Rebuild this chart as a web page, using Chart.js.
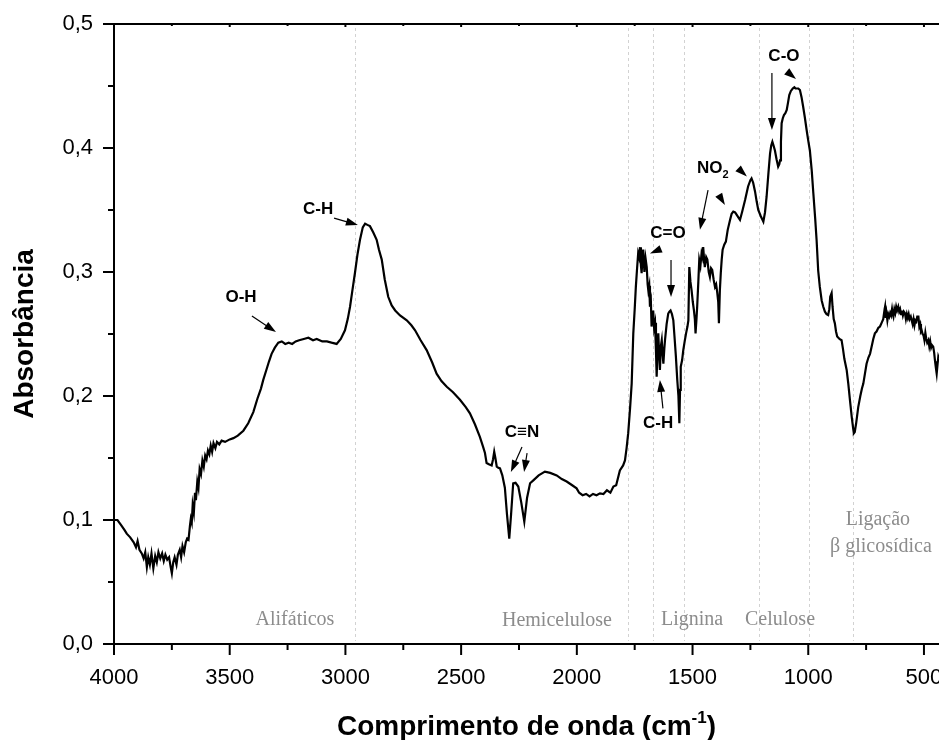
<!DOCTYPE html>
<html>
<head>
<meta charset="utf-8">
<script src="https://cdn.jsdelivr.net/npm/chart.js@4.4.0/dist/chart.umd.min.js"></script>
<style>
  html, body { margin: 0; padding: 0; background: #fff; }
  #wrap { width: 939px; height: 740px; }
</style>
</head>
<body>
<div id="wrap"><canvas id="myChart"></canvas></div>
<script>
// Spectrum, wavenumber in cm-1
const wavenumber = [
  4000, 3985, 3970, 3955, 3945, 3930, 3915, 3905, 3898, 3890, 3880, 3872, 3865, 3858, 3852, 3845, 3838, 3830, 3822, 3815,
  3808, 3800, 3792, 3785, 3778, 3770, 3762, 3755, 3750, 3744, 3738, 3730, 3724, 3716, 3710, 3704, 3697, 3690, 3684, 3678,
  3672, 3668, 3664, 3660, 3655, 3650, 3646, 3640, 3635, 3630, 3624, 3618, 3612, 3606, 3600, 3594, 3588, 3582, 3576, 3570,
  3562, 3555, 3545, 3535, 3520, 3500, 3484, 3465, 3441, 3420, 3398, 3380, 3365, 3355, 3340, 3330, 3319, 3305, 3290, 3275,
  3260, 3245, 3230, 3215, 3200, 3180, 3160, 3140, 3124, 3100, 3080, 3060, 3038, 3020, 3002, 2990, 2980, 2970, 2959, 2948,
  2937, 2925, 2915, 2905, 2894, 2880, 2865, 2855, 2843, 2830, 2815, 2800, 2785, 2764, 2735, 2715, 2699, 2675, 2649, 2625,
  2606, 2585, 2562, 2535, 2505, 2480, 2462, 2440, 2419, 2405, 2397, 2390, 2380, 2368, 2362, 2357, 2352, 2346, 2338, 2332,
  2322, 2311, 2302, 2292, 2284, 2275, 2265, 2253, 2240, 2227, 2215, 2202, 2188, 2165, 2138, 2115, 2087, 2065, 2044, 2020,
  2001, 1990, 1975, 1960, 1945, 1930, 1915, 1900, 1885, 1870, 1855, 1842, 1830, 1814, 1800, 1792, 1785, 1778, 1770, 1763,
  1756, 1750, 1745, 1740, 1735, 1731, 1727, 1723, 1720, 1716, 1713, 1708, 1703, 1698, 1694, 1691, 1687, 1684, 1680, 1677,
  1673, 1670, 1666, 1662, 1658, 1655, 1651, 1648, 1644, 1641, 1637, 1633, 1629, 1626, 1622, 1619, 1612, 1605, 1600, 1595,
  1589, 1583, 1578, 1572, 1566, 1561, 1557, 1554, 1551, 1545, 1540, 1534, 1528, 1522, 1518, 1514, 1509, 1504, 1499, 1494,
  1490, 1487, 1483, 1480, 1475, 1471, 1466, 1461, 1457, 1454, 1450, 1447, 1441, 1436, 1430, 1425, 1420, 1415, 1409, 1403,
  1398, 1393, 1389, 1386, 1382, 1378, 1374, 1370, 1363, 1356, 1348, 1338, 1331, 1324, 1316, 1309, 1302, 1295, 1285, 1273,
  1260, 1250, 1245, 1238, 1230, 1223, 1216, 1205, 1194, 1187, 1180, 1172, 1165, 1160, 1155, 1150, 1144, 1137, 1130, 1125,
  1122, 1118, 1115, 1110, 1105, 1099, 1093, 1088, 1082, 1075, 1067, 1060, 1055, 1050, 1043, 1036, 1029, 1022, 1015, 1007,
  1000, 993, 985, 978, 970, 964, 957, 950, 942, 935, 928, 921, 914, 909, 905, 899, 895, 890, 885, 880,
  875, 865, 856, 850, 844, 834, 827, 820, 812, 806, 803, 799, 793, 784, 775, 768, 762, 755, 748, 740,
  733, 726, 719, 712, 705, 697, 690, 683, 676, 670, 668, 665, 662, 658, 654, 650, 646, 642, 638, 635,
  632, 628, 624, 620, 616, 611, 607, 603, 599, 595, 591, 587, 582, 578, 574, 570, 566, 562, 557, 553,
  549, 545, 541, 537, 533, 529, 524, 520, 516, 513, 510, 506, 502, 498, 494, 490, 486, 481, 477, 473,
  469, 465, 460, 456, 452, 448, 445, 441, 438, 435
];
const absorbance = [
  0.100, 0.100, 0.096, 0.092, 0.089, 0.086, 0.082, 0.078, 0.083, 0.076, 0.073, 0.069, 0.074, 0.062, 0.070, 0.064, 0.073, 0.061, 0.071, 0.066,
  0.074, 0.069, 0.073, 0.067, 0.072, 0.068, 0.070, 0.062, 0.057, 0.066, 0.070, 0.064, 0.072, 0.076, 0.070, 0.079, 0.074, 0.082, 0.085, 0.084,
  0.095, 0.101, 0.098, 0.112, 0.106, 0.122, 0.116, 0.131, 0.126, 0.141, 0.137, 0.148, 0.143, 0.152, 0.149, 0.156, 0.153, 0.160, 0.155, 0.162,
  0.158, 0.163, 0.161, 0.164, 0.163, 0.165, 0.166, 0.168, 0.172, 0.178, 0.187, 0.198, 0.206, 0.213, 0.222, 0.228, 0.234, 0.239, 0.243, 0.244,
  0.242, 0.243, 0.242, 0.244, 0.245, 0.246, 0.247, 0.245, 0.246, 0.244, 0.244, 0.243, 0.242, 0.246, 0.253, 0.262, 0.272, 0.285, 0.299, 0.314,
  0.326, 0.336, 0.339, 0.338, 0.337, 0.332, 0.326, 0.318, 0.310, 0.294, 0.280, 0.273, 0.269, 0.265, 0.261, 0.257, 0.253, 0.245, 0.237, 0.227,
  0.218, 0.212, 0.2075, 0.203, 0.197, 0.191, 0.186, 0.177, 0.167, 0.159, 0.154, 0.146, 0.145, 0.144, 0.149, 0.155, 0.150, 0.143, 0.142, 0.1417,
  0.136, 0.126, 0.105, 0.085, 0.105, 0.1296, 0.130, 0.127, 0.114, 0.0986, 0.118, 0.1296, 0.132, 0.136, 0.139, 0.138, 0.136, 0.133, 0.131, 0.128,
  0.1255, 0.122, 0.120, 0.121, 0.119, 0.121, 0.120, 0.1215, 0.121, 0.124, 0.122, 0.127, 0.128, 0.140, 0.144, 0.148, 0.158, 0.170, 0.190, 0.210,
  0.2505, 0.270, 0.288, 0.302, 0.315, 0.312, 0.320, 0.305, 0.299, 0.312, 0.318, 0.300, 0.311, 0.304, 0.290, 0.285, 0.289, 0.272, 0.276, 0.256,
  0.265, 0.269, 0.255, 0.259, 0.236, 0.2155, 0.240, 0.2505, 0.232, 0.221, 0.240, 0.245, 0.233, 0.226, 0.238, 0.245, 0.258, 0.2665, 0.268, 0.269,
  0.266, 0.261, 0.248, 0.232, 0.213, 0.200, 0.178, 0.205, 0.2235, 0.229, 0.237, 0.244, 0.2505, 0.256, 0.261, 0.304, 0.292, 0.285, 0.276, 0.269,
  0.262, 0.2505, 0.262, 0.272, 0.292, 0.3097, 0.305, 0.315, 0.312, 0.320, 0.310, 0.304, 0.312, 0.310, 0.300, 0.296, 0.303, 0.3016, 0.294, 0.288,
  0.290, 0.283, 0.276, 0.2586, 0.285, 0.299, 0.310, 0.318, 0.322, 0.3245, 0.334, 0.342, 0.347, 0.3487, 0.348, 0.346, 0.344, 0.342, 0.349, 0.358,
  0.369, 0.374, 0.3755, 0.372, 0.365, 0.357, 0.350, 0.345, 0.3406, 0.348, 0.3607, 0.380, 0.3957, 0.402, 0.405, 0.402, 0.398, 0.391, 0.385, 0.387,
  0.390, 0.405, 0.420, 0.424, 0.4266, 0.428, 0.4306, 0.436, 0.4427, 0.446, 0.448, 0.449, 0.448, 0.448, 0.448, 0.4468, 0.441, 0.4333, 0.425, 0.4145,
  0.406, 0.398, 0.382, 0.3635, 0.343, 0.326, 0.301, 0.288, 0.277, 0.272, 0.268, 0.266, 0.2653, 0.270, 0.280, 0.283, 0.272, 0.262, 0.2586, 0.252,
  0.248, 0.246, 0.245, 0.238, 0.230, 0.221, 0.210, 0.197, 0.183, 0.174, 0.170, 0.171, 0.178, 0.191, 0.200, 0.206, 0.210, 0.218, 0.226, 0.231,
  0.234, 0.240, 0.246, 0.2505, 0.252, 0.255, 0.256, 0.259, 0.262, 0.270, 0.272, 0.263, 0.267, 0.261, 0.266, 0.264, 0.267, 0.265, 0.270, 0.266,
  0.264, 0.270, 0.267, 0.272, 0.269, 0.272, 0.268, 0.270, 0.266, 0.269, 0.265, 0.268, 0.2667, 0.262, 0.266, 0.263, 0.266, 0.262, 0.264, 0.261,
  0.258, 0.262, 0.257, 0.261, 0.260, 0.264, 0.264, 0.256, 0.258, 0.252, 0.253, 0.250, 0.249, 0.245, 0.251, 0.246, 0.243, 0.245, 0.240, 0.244,
  0.239, 0.241, 0.2398, 0.235, 0.228, 0.222, 0.218, 0.226, 0.2317, 0.230
];

// axis ticks
const xTicks = [4000, 3500, 3000, 2500, 2000, 1500, 1000, 500];
const xMinorTicks = [3750, 3250, 2750, 2250, 1750, 1250, 750];
const yTicks = [0, 0.1, 0.2, 0.3, 0.4, 0.5];
const yMinorTicks = [0.05, 0.15, 0.25, 0.35, 0.45];

// dotted guide lines (cm-1)
const guideLines = [2957, 1778, 1672, 1537, 1212, 997, 805];

// region names, gray serif text [label, wavenumber, absorbance]
const regionLabels = [
  ['Alifáticos', 3218, 0.0194],
  ['Hemicelulose', 2086, 0.0185],
  ['Lignina', 1502, 0.0194],
  ['Celulose', 1122, 0.0194],
  ['Ligação', 699, 0.100],
  ['β glicosídica', 686, 0.0785]
];

// band labels [text, subscript, wavenumber, absorbance]
const bandLabels = [
  ['O-H', '', 3451, 0.2798],
  ['C-H', '', 3118, 0.3508],
  ['C≡N', '', 2237, 0.171],
  ['C=O', '', 1606, 0.3315],
  ['C-H', '', 1649, 0.178],
  ['NO', '2', 1412, 0.384],
  ['C-O', '', 1105, 0.474]
];

// arrows [fromWn, fromAbs, toWn, toAbs, withShaft]
const arrows = [
  [3404, 0.2645, 3300, 0.2516, true],
  [3049, 0.3435, 2946, 0.3379, true],
  [2237, 0.1589, 2285, 0.1387, true],
  [2215, 0.1540, 2228, 0.1387, true],
  [1619, 0.3200, 1684, 0.3150, false],
  [1593, 0.3097, 1593, 0.2798, true],
  [1628, 0.1900, 1641, 0.2130, true],
  [1433, 0.3660, 1468, 0.3340, true],
  [1394, 0.3645, 1360, 0.3540, false],
  [1317, 0.3860, 1265, 0.3770, false],
  [1157, 0.4605, 1157, 0.4145, true],
  [1101, 0.4630, 1053, 0.4556, false]
];

const points = wavenumber.map((w, i) => ({ x: w, y: absorbance[i] }));

function drawArrow(ctx, x1, y1, x2, y2, shaft) {
  const ang = Math.atan2(y2 - y1, x2 - x1);
  const len = 12, half = 4;
  if (shaft) {
    ctx.lineWidth = 1.2;
    ctx.beginPath();
    ctx.moveTo(x1, y1);
    ctx.lineTo(x2 - Math.cos(ang) * len * 0.8, y2 - Math.sin(ang) * len * 0.8);
    ctx.stroke();
  }
  ctx.beginPath();
  ctx.moveTo(x2, y2);
  ctx.lineTo(x2 - Math.cos(ang) * len - Math.sin(ang) * half, y2 - Math.sin(ang) * len + Math.cos(ang) * half);
  ctx.lineTo(x2 - Math.cos(ang) * len + Math.sin(ang) * half, y2 - Math.sin(ang) * len - Math.cos(ang) * half);
  ctx.closePath();
  ctx.fill();
}

// no extra room around the axes, the plot runs to the right edge
function noPadding(s) {
  s.paddingLeft = 0;
  s.paddingRight = 0;
  s.paddingTop = 0;
  s.paddingBottom = 0;
}

const decor = {
  id: 'decor',
  beforeDatasetsDraw(chart) {
    const { ctx, chartArea: a, scales: { x, y } } = chart;
    ctx.save();
    ctx.strokeStyle = '#d2d2d2';
    ctx.lineWidth = 1;
    ctx.setLineDash([3, 3]);
    guideLines.forEach(v => {
      const px = Math.round(x.getPixelForValue(v)) + 0.5;
      ctx.beginPath();
      ctx.moveTo(px, a.top + 4);
      ctx.lineTo(px, a.bottom - 3);
      ctx.stroke();
    });
    ctx.setLineDash([]);
    ctx.fillStyle = '#8c8c8c';
    ctx.font = '20px "Liberation Serif", "Times New Roman", serif';
    ctx.textAlign = 'center';
    ctx.textBaseline = 'middle';
    regionLabels.forEach(r => {
      ctx.fillText(r[0], x.getPixelForValue(r[1]), y.getPixelForValue(r[2]));
    });
    ctx.restore();
  },
  afterDraw(chart) {
    const { ctx, chartArea: a, scales: { x, y } } = chart;
    ctx.save();
    ctx.strokeStyle = '#000';
    ctx.fillStyle = '#000';

    // top frame line
    ctx.lineWidth = 2;
    ctx.beginPath();
    ctx.moveTo(a.left - 1, a.top);
    ctx.lineTo(a.right, a.top);
    ctx.stroke();

    // tick marks
    ctx.lineWidth = 2;
    xTicks.forEach(v => {
      const px = x.getPixelForValue(v);
      ctx.beginPath(); ctx.moveTo(px, a.bottom); ctx.lineTo(px, a.bottom + 11); ctx.stroke();
      ctx.beginPath(); ctx.moveTo(px, a.top); ctx.lineTo(px, a.top + 3); ctx.stroke();
    });
    xMinorTicks.forEach(v => {
      const px = x.getPixelForValue(v);
      ctx.beginPath(); ctx.moveTo(px, a.bottom); ctx.lineTo(px, a.bottom + 6); ctx.stroke();
      ctx.beginPath(); ctx.moveTo(px, a.top); ctx.lineTo(px, a.top + 2); ctx.stroke();
    });
    yTicks.forEach(v => {
      const py = y.getPixelForValue(v);
      ctx.beginPath(); ctx.moveTo(a.left, py); ctx.lineTo(a.left - 11, py); ctx.stroke();
    });
    yMinorTicks.forEach(v => {
      const py = y.getPixelForValue(v);
      ctx.beginPath(); ctx.moveTo(a.left, py); ctx.lineTo(a.left - 6, py); ctx.stroke();
    });

    // band labels
    ctx.font = 'bold 17px "Liberation Sans", Arial, sans-serif';
    ctx.textBaseline = 'middle';
    bandLabels.forEach(b => {
      const px = x.getPixelForValue(b[2]);
      const py = y.getPixelForValue(b[3]);
      if (b[1]) {
        ctx.textAlign = 'left';
        const w = ctx.measureText(b[0]).width;
        ctx.font = 'bold 11px "Liberation Sans", Arial, sans-serif';
        const ws = ctx.measureText(b[1]).width;
        ctx.font = 'bold 17px "Liberation Sans", Arial, sans-serif';
        const left = px - (w + ws) / 2;
        ctx.fillText(b[0], left, py);
        ctx.font = 'bold 11px "Liberation Sans", Arial, sans-serif';
        ctx.fillText(b[1], left + w, py + 7);
        ctx.font = 'bold 17px "Liberation Sans", Arial, sans-serif';
      } else {
        ctx.textAlign = 'center';
        ctx.fillText(b[0], px, py);
      }
    });

    // arrows
    arrows.forEach(r => {
      drawArrow(ctx, x.getPixelForValue(r[0]), y.getPixelForValue(r[1]),
        x.getPixelForValue(r[2]), y.getPixelForValue(r[3]), r[4]);
    });

    // axis titles
    ctx.font = 'bold 28px "Liberation Sans", Arial, sans-serif';
    ctx.textBaseline = 'alphabetic';
    ctx.textAlign = 'left';
    const main = 'Comprimento de onda (cm';
    const wMain = ctx.measureText(main).width;
    const wClose = ctx.measureText(')').width;
    ctx.font = 'bold 17px "Liberation Sans", Arial, sans-serif';
    const wSup = ctx.measureText('-1').width;
    const cx = (a.left + a.right) / 2;
    let tx = cx - (wMain + wSup + wClose) / 2;
    const base = 735;
    ctx.font = 'bold 28px "Liberation Sans", Arial, sans-serif';
    ctx.fillText(main, tx, base);
    ctx.font = 'bold 17px "Liberation Sans", Arial, sans-serif';
    ctx.fillText('-1', tx + wMain, base - 12);
    ctx.font = 'bold 28px "Liberation Sans", Arial, sans-serif';
    ctx.fillText(')', tx + wMain + wSup, base);

    ctx.translate(25, (a.top + a.bottom) / 2);
    ctx.rotate(-Math.PI / 2);
    ctx.textAlign = 'center';
    ctx.textBaseline = 'middle';
    ctx.fillText('Absorbância', 0, 0);
    ctx.restore();
  }
};

const myChart = new Chart(document.getElementById('myChart'), {
  type: 'line',
  data: {
    datasets: [{
      data: points,
      borderColor: '#000',
      borderWidth: 2.2,
      pointRadius: 0,
      fill: false,
      tension: 0
    }]
  },
  options: {
    responsive: true,
    maintainAspectRatio: false,
    animation: false,
    layout: { padding: { top: 24, right: 0, left: 0, bottom: 0 } },
    plugins: { legend: { display: false }, tooltip: { enabled: false } },
    scales: {
      x: {
        type: 'linear',
        reverse: true,
        min: 435,
        max: 4000,
        afterFit: s => { s.height = 96; noPadding(s); },
        afterBuildTicks: s => { s.ticks = xTicks.map(v => ({ value: v })); },
        grid: { drawOnChartArea: false, drawTicks: false },
        border: { display: true, color: '#000', width: 2 },
        ticks: {
          color: '#000',
          padding: 21,
          maxRotation: 0,
          autoSkip: false,
          font: { family: '"Liberation Sans", Arial, sans-serif', size: 22 },
          callback: v => String(v)
        }
      },
      y: {
        min: 0,
        max: 0.5,
        afterFit: s => { s.width = 114; noPadding(s); },
        afterBuildTicks: s => { s.ticks = yTicks.map(v => ({ value: v })); },
        grid: { drawOnChartArea: false, drawTicks: false },
        border: { display: true, color: '#000', width: 2 },
        ticks: {
          color: '#000',
          padding: 21,
          font: { family: '"Liberation Sans", Arial, sans-serif', size: 22 },
          callback: v => v.toFixed(1).replace('.', ',')
        }
      }
    }
  },
  plugins: [decor]
});
</script>
</body>
</html>
